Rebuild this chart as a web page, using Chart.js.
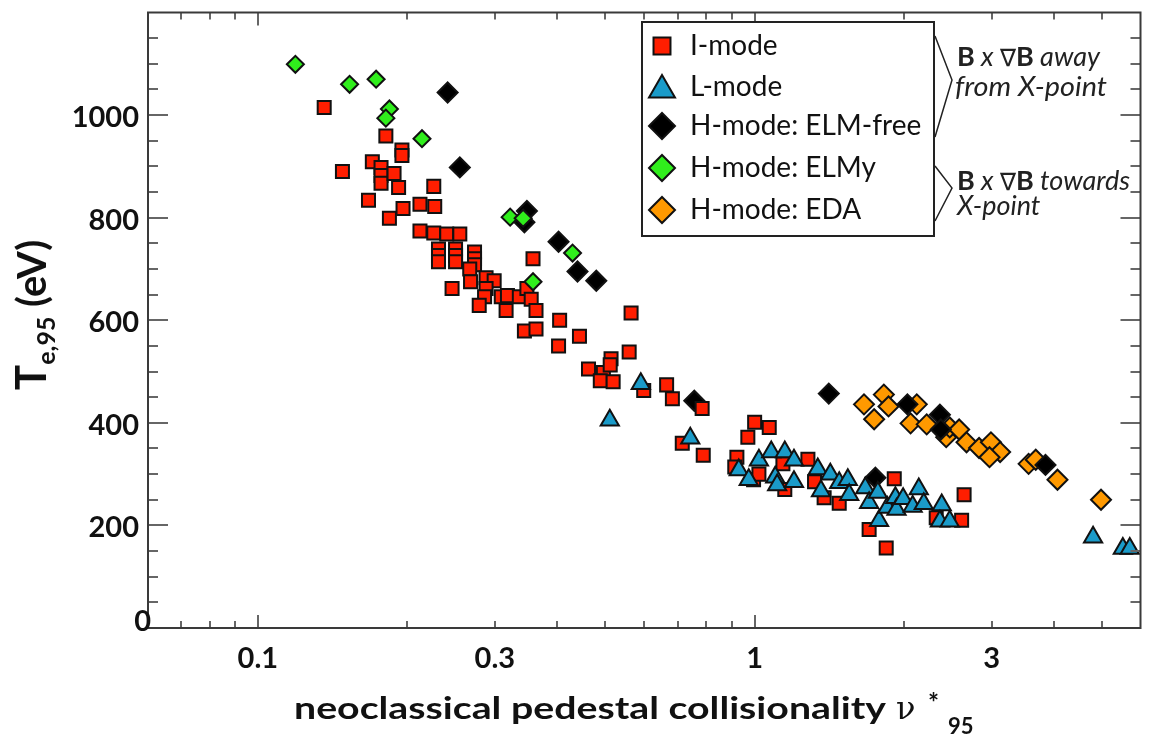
<!DOCTYPE html>
<html>
<head>
<meta charset="utf-8">
<title>Pedestal temperature vs collisionality</title>
<script src="https://cdn.jsdelivr.net/npm/chart.js"></script>
<style>
  body { margin: 0; background: #fff; }
  #wrap { width: 1153px; height: 740px; }
</style>
</head>
<body>
<div id="wrap"><canvas id="teChart" width="1153" height="740"></canvas></div>
<script>
// axis range and labels
const xMin = 0.0601, xMax = 5.98;
const yMin = 0, yMax = 1200;
const xTicks = [0.1, 0.3, 1, 3];
const yTicks = [0, 200, 400, 600, 800, 1000];

// I-mode (red squares)
const iModeNu = [0.136, 0.181, 0.195, 0.195, 0.170, 0.148, 0.177, 0.177, 0.177, 0.188,
  0.192, 0.226, 0.167, 0.184, 0.196, 0.212, 0.227, 0.212, 0.226, 0.240,
  0.255, 0.231, 0.231, 0.231, 0.250, 0.250, 0.250, 0.273, 0.273, 0.273,
  0.267, 0.246, 0.268, 0.288, 0.299, 0.288, 0.286, 0.279, 0.309, 0.318,
  0.316, 0.336, 0.348, 0.355, 0.363, 0.358, 0.344, 0.363, 0.405, 0.444,
  0.403, 0.564, 0.463, 0.514, 0.496, 0.489, 0.519, 0.512, 0.559, 0.598,
  0.665, 0.683, 0.784, 0.715, 0.788, 1.00, 1.07, 0.969, 0.921, 0.912,
  0.995, 1.14, 1.28, 1.15, 1.32, 1.38, 1.48, 1.91, 1.70, 1.84,
  2.64, 2.61, 2.32, 1.02];
const iModeTe = [1015, 959, 932, 921, 909, 890, 898, 882, 867, 886,
  859, 861, 834, 799, 818, 826, 822, 774, 770, 768,
  768, 739, 726, 714, 739, 726, 714, 733, 720, 708,
  700, 662, 675, 683, 677, 662, 646, 629, 646, 648,
  619, 646, 662, 641, 619, 720, 579, 583, 600, 569,
  550, 614, 505, 525, 498, 482, 480, 513, 538, 463,
  474, 447, 428, 360, 337, 401, 391, 372, 333, 314,
  289, 320, 329, 270, 285, 254, 243, 291, 192, 156,
  260, 210, 215, 300];

// L-mode (cyan triangles)
const lModeNu = [0.511, 0.590, 0.742, 0.929, 0.973, 1.02, 1.08, 1.15, 1.10, 1.11,
  1.20, 1.20, 1.34, 1.42, 1.36, 1.48, 1.54, 1.55, 1.67, 1.70,
  1.77, 1.78, 1.85, 1.92, 1.93, 1.99, 2.08, 2.14, 2.19, 2.38,
  2.36, 2.47, 4.80, 5.51, 5.69];
const lModeTe = [405, 476, 370, 308, 289, 327, 343, 343, 294, 279,
  327, 285, 310, 300, 267, 283, 289, 260, 273, 244,
  264, 209, 235, 254, 231, 252, 237, 271, 242, 240,
  208, 208, 177, 155, 155];

// H-mode ELM-free (black diamonds)
const elmFreeNu = [0.241, 0.255, 0.348, 0.344, 0.403, 0.440, 0.480, 0.756, 1.41, 2.03, 2.36, 2.37, 1.75, 3.85];
const elmFreeTe = [1044, 898, 813, 791, 753, 695, 677, 443, 457, 436, 416, 387, 293, 318];

// H-mode ELMy (green diamonds)
const elmyNu = [0.119, 0.153, 0.173, 0.184, 0.181, 0.214, 0.322, 0.342, 0.430, 0.358];
const elmyTe = [1099, 1060, 1070, 1012, 994, 954, 801, 799, 731, 675];

// H-mode EDA (orange diamonds)
const edaNu = [1.66, 1.82, 1.86, 1.74, 2.12, 2.06, 2.22, 2.43, 2.47, 2.58,
  2.67, 2.83, 2.99, 3.12, 2.97, 3.56, 3.68, 4.07, 4.98];
const edaTe = [436, 455, 432, 407, 436, 399, 397, 372, 391, 387,
  362, 351, 362, 343, 333, 320, 328, 289, 250];

const pts = (xs, ys) => xs.map((x, i) => ({ x: x, y: ys[i] }));

const FONT = "Lato, 'Open Sans', 'DejaVu Sans', sans-serif";

function marker(ctx, style, x, y, r, fill) {
  ctx.beginPath();
  if (style === 'rect') {
    const s = r * Math.SQRT1_2;
    ctx.rect(x - s, y - s, 2 * s, 2 * s);
  } else if (style === 'triangle') {
    ctx.moveTo(x, y - r);
    ctx.lineTo(x + r * 0.866, y + r / 2);
    ctx.lineTo(x - r * 0.866, y + r / 2);
    ctx.closePath();
  } else {
    ctx.moveTo(x - r, y);
    ctx.lineTo(x, y - r);
    ctx.lineTo(x + r, y);
    ctx.lineTo(x, y + r);
    ctx.closePath();
  }
  ctx.fillStyle = fill;
  ctx.fill();
  ctx.lineWidth = 2;
  ctx.strokeStyle = '#111';
  ctx.stroke();
}

// draws runs of text with different fonts one after another
function runs(ctx, parts, x, y) {
  let cx = x;
  for (const p of parts) {
    ctx.font = p.font;
    ctx.fillText(p.t, cx, y + (p.dy || 0));
    cx += ctx.measureText(p.t).width;
  }
  return cx;
}

function fitText(ctx, text, x, y, width) {
  const w = ctx.measureText(text).width;
  ctx.save();
  ctx.translate(x, y);
  ctx.scale(width / w, 1);
  ctx.fillText(text, 0, 0);
  ctx.restore();
}

const frame = {
  id: 'frame',
  afterDatasetsDraw(chart) {
    const { ctx, chartArea: a, scales: { x, y } } = chart;
    ctx.save();
    ctx.lineCap = 'butt';

    // inward ticks
    ctx.strokeStyle = '#666';
    ctx.lineWidth = 2;
    ctx.beginPath();
    for (let v = 50; v < yMax; v += 50) {
      const py = Math.round(y.getPixelForValue(v));
      const len = v % 200 === 0 ? 20 : 10;
      ctx.moveTo(a.left, py); ctx.lineTo(a.left + len, py);
      ctx.moveTo(a.right, py); ctx.lineTo(a.right - len, py);
    }
    for (const dec of [0.01, 0.1, 1]) {
      for (let k = 1; k < 10; k++) {
        const v = k * dec;
        if (v <= xMin || v >= xMax) continue;
        const px = Math.round(x.getPixelForValue(v));
        const len = k === 1 ? 13 : 7;
        ctx.moveTo(px, a.bottom); ctx.lineTo(px, a.bottom - len);
        ctx.moveTo(px, a.top); ctx.lineTo(px, a.top + len);
      }
    }
    ctx.stroke();

    // frame
    ctx.strokeStyle = '#3a3a3a';
    ctx.lineWidth = 2;
    ctx.strokeRect(a.left, a.top, a.right - a.left, a.bottom - a.top);

    // tick labels
    ctx.fillStyle = '#111';
    ctx.font = 'bold 29px ' + FONT;
    ctx.textAlign = 'right';
    ctx.textBaseline = 'alphabetic';
    for (const v of yTicks) {
      const py = y.getPixelForValue(v);
      if (v === 0) ctx.fillText('0', a.left + 3, py + 3);
      else ctx.fillText(String(v), a.left - 9, py + 12);
    }
    ctx.textAlign = 'center';
    for (const v of xTicks) {
      ctx.fillText(String(v), x.getPixelForValue(v), 668);
    }

    // x axis title
    ctx.textAlign = 'left';
    ctx.font = 'bold 30px ' + FONT;
    fitText(ctx, 'neoclassical pedestal collisionality', 294, 719, 592);
    ctx.font = "32px 'DejaVu Serif', serif";
    ctx.fillText('\u03bd', 896, 719);
    ctx.font = 'bold 26px ' + FONT;
    ctx.fillText('*', 928, 712);
    ctx.font = 'bold 22px ' + FONT;
    ctx.fillText('95', 948, 734);

    // y axis title
    ctx.save();
    ctx.translate(46, 390);
    ctx.rotate(-Math.PI / 2);
    runs(ctx, [
      { t: 'T', font: 'bold 42px ' + FONT },
      { t: 'e,95', font: 'bold 25px ' + FONT, dy: 9 },
      { t: ' (eV)', font: 'bold 40px ' + FONT }
    ], 0, 0);
    ctx.restore();

    // legend box
    const lx = 642, ly = 22, lw = 292, lh = 214;
    ctx.fillStyle = '#fff';
    ctx.fillRect(lx, ly, lw, lh);
    ctx.strokeStyle = '#222';
    ctx.lineWidth = 2;
    ctx.strokeRect(lx, ly, lw, lh);
    const rows = [46, 87, 126, 168, 210];
    const sizes = { rect: 12, triangle: 15, rectRot: 13 };
    chart.data.datasets.forEach((ds, i) => {
      const ry = rows[i];
      marker(ctx, ds.pointStyle, 662, ry + (ds.pointStyle === 'triangle' ? 3 : 0), sizes[ds.pointStyle], ds.backgroundColor);
      ctx.fillStyle = '#111';
      ctx.font = '28px ' + FONT;
      ctx.textAlign = 'left';
      ctx.textBaseline = 'middle';
      ctx.fillText(ds.label, 690, ry);
    });

    // brackets and notes
    ctx.strokeStyle = '#222';
    ctx.lineWidth = 1.5;
    ctx.beginPath();
    ctx.moveTo(935, 36); ctx.lineTo(952, 80); ctx.lineTo(935, 137);
    ctx.moveTo(935, 166); ctx.lineTo(952, 188); ctx.lineTo(935, 221);
    ctx.stroke();

    ctx.fillStyle = '#222';
    ctx.textBaseline = 'alphabetic';
    const b = 'bold 27px ' + FONT, it = 'italic 27px ' + FONT, rg = "24px 'DejaVu Sans', sans-serif";
    runs(ctx, [{ t: 'B', font: b }, { t: ' x ', font: it }, { t: '\u2207', font: rg }, { t: 'B', font: b }, { t: ' away', font: it }], 957, 66);
    ctx.font = it;
    fitText(ctx, 'from X-point', 955, 96, 152);
    runs(ctx, [{ t: 'B', font: b }, { t: ' x ', font: it }, { t: '\u2207', font: rg }, { t: 'B', font: b }, { t: ' towards', font: it }], 957, 190);
    runs(ctx, [{ t: 'X-point', font: it }], 957, 215);

    ctx.restore();
  }
};

const ctx = document.getElementById('teChart').getContext('2d');
const chart = new Chart(ctx, {
  type: 'scatter',
  data: {
    datasets: [
      { label: 'I-mode', data: pts(iModeNu, iModeTe), pointStyle: 'rect', pointRadius: 9.2,
        backgroundColor: '#ff1e00', order: 2 },
      { label: 'L-mode', data: pts(lModeNu, lModeTe), pointStyle: 'triangle', pointRadius: 10.5,
        backgroundColor: '#1a9bc9', order: 1 },
      { label: 'H-mode: ELM-free', data: pts(elmFreeNu, elmFreeTe), pointStyle: 'rectRot', pointRadius: 10,
        backgroundColor: '#000000', order: 3 },
      { label: 'H-mode: ELMy', data: pts(elmyNu, elmyTe), pointStyle: 'rectRot', pointRadius: 8.5,
        backgroundColor: '#30ee1c', order: 0 },
      { label: 'H-mode: EDA', data: pts(edaNu, edaTe), pointStyle: 'rectRot', pointRadius: 10,
        backgroundColor: '#ff9900', order: 4 }
    ].map(ds => Object.assign(ds, { pointBorderColor: '#111', pointBorderWidth: 2, clip: false, pointHoverRadius: ds.pointRadius }))
  },
  options: {
    responsive: false,
    animation: false,
    events: [],
    layout: { padding: { left: 148, right: 2, top: 7, bottom: 112 } },
    scales: {
      x: { type: 'logarithmic', min: xMin, max: xMax, display: false },
      y: { type: 'linear', min: yMin, max: yMax, display: false }
    },
    plugins: { legend: { display: false }, tooltip: { enabled: false } }
  },
  plugins: [frame]
});
</script>
</body>
</html>
